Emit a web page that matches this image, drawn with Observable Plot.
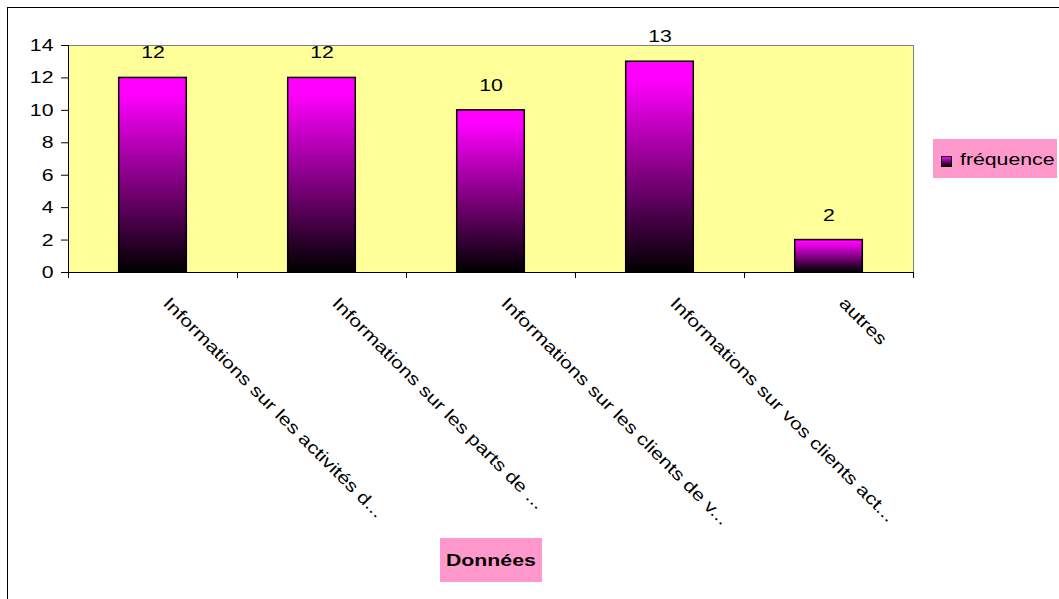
<!DOCTYPE html>
<html><head><meta charset="utf-8">
<script src="https://cdn.jsdelivr.net/npm/d3@7"></script>
<script src="https://cdn.jsdelivr.net/npm/@observablehq/plot@0.6"></script>
<style>
body{margin:0;background:#fff;font-family:"Liberation Sans",Arial,sans-serif;}
#wrap{position:relative;width:1059px;height:599px;overflow:hidden;background:#fff;}
#border{position:absolute;left:7px;top:7px;width:1100px;height:700px;border:1px solid #000;box-sizing:border-box;}
#chart{position:absolute;left:0;top:0;}
#legend{position:absolute;left:933px;top:139px;width:124px;height:39px;background:#FF99CC;}
#legend .sw{position:absolute;left:8px;top:17px;width:11px;height:11px;box-sizing:border-box;border:1px solid #000;background:linear-gradient(#FF00FF,#000);}
#legend .lt{position:absolute;left:27px;top:11.6px;font-size:17px;line-height:17px;white-space:nowrap;transform:scaleX(1.25);transform-origin:0 0;color:#000;}
#xtitle{position:absolute;left:440px;top:538px;width:102px;height:44px;background:#FF99CC;display:flex;align-items:center;justify-content:center;}
#xtitle span{font-weight:bold;font-size:17px;line-height:17px;transform:scaleX(1.25);white-space:nowrap;color:#000;}
</style></head><body>
<div id="wrap"><div id="border"></div><div id="chart"></div>
<div id="legend"><span class="sw"></span><span class="lt" id="legendText"></span></div>
<div id="xtitle"><span id="xTitleText"></span></div>
</div>
<script>
const categories = [
  "Informations sur les activités d...",
  "Informations sur les parts de ...",
  "Informations sur les clients de v...",
  "Informations sur vos clients act...",
  "autres"
];
const frequence = [12, 12, 10, 13, 2];
const yTicks = [0, 2, 4, 6, 8, 10, 12, 14];
const seriesName = "fréquence";
const xTitle = "Données";

document.getElementById("legendText").textContent = seriesName;
document.getElementById("xTitleText").textContent = xTitle;

const rows = categories.map((label, i) => ({i, label, value: frequence[i]}));
const boundaries = d3.range(categories.length + 1);

const defs = () => {
  const d = d3.create("svg:defs");
  const g = d.append("linearGradient").attr("id", "grad")
    .attr("x1", 0).attr("y1", 0).attr("x2", 0).attr("y2", 1);
  g.append("stop").attr("offset", "0").attr("stop-color", "#FF00FF");
  g.append("stop").attr("offset", "0.08").attr("stop-color", "#FF00FF");
  g.append("stop").attr("offset", "1").attr("stop-color", "#000000");
  return d.node();
};

const chart = Plot.plot({
  width: 1059,
  height: 599,
  marginLeft: 68,
  marginRight: 146,
  marginTop: 45,
  marginBottom: 327,
  style: {fontFamily: "'Liberation Sans', Arial, sans-serif", fontSize: "17px", background: "transparent", color: "#000", overflow: "visible"},
  x: {domain: [0, categories.length], axis: null},
  y: {domain: [0, 14], axis: null},
  marks: [
    defs,
    Plot.frame({fill: "#FFFF99", stroke: "#808080"}),
    Plot.axisX({ticks: boundaries, tickSize: 6, tickFormat: () => "", label: null, stroke: "#000"}),
    Plot.axisY({ticks: yTicks, tickSize: 7, tickPadding: 8, fontSize: 17, label: null, stroke: "#000", fill: "#000"}),
    Plot.rectY(rows, {x1: d => d.i + 0.3, x2: d => d.i + 0.7, y: "value", fill: "url(#grad)", stroke: "#000", strokeWidth: 1.5}),
    Plot.ruleY([0], {stroke: "#000"}),
    Plot.ruleX([0], {stroke: "#000"}),
    Plot.text(rows, {x: d => d.i + 0.5, y: "value", text: d => String(d.value), dy: -25, fontSize: 17, fill: "#000"}),
    Plot.text(rows, {x: d => d.i + 0.5, y: 0, text: "label", rotate: 45, textAnchor: "start", dx: 13, dy: 28, fontSize: 17, fill: "#000"})
  ]
});

// widen glyphs horizontally (along the text direction) like the reference rendering
for (const t of chart.querySelectorAll("text")) {
  const xa = t.getAttribute("x");
  const x = xa != null && !isNaN(+xa) ? +xa : 0;
  if (xa != null && !isNaN(+xa)) t.removeAttribute("x");
  const tr = t.getAttribute("transform") || "";
  t.setAttribute("transform", `${tr} translate(${x},0) scale(1.25,1)`);
}
document.getElementById("chart").appendChild(chart);
</script>
</body></html>
